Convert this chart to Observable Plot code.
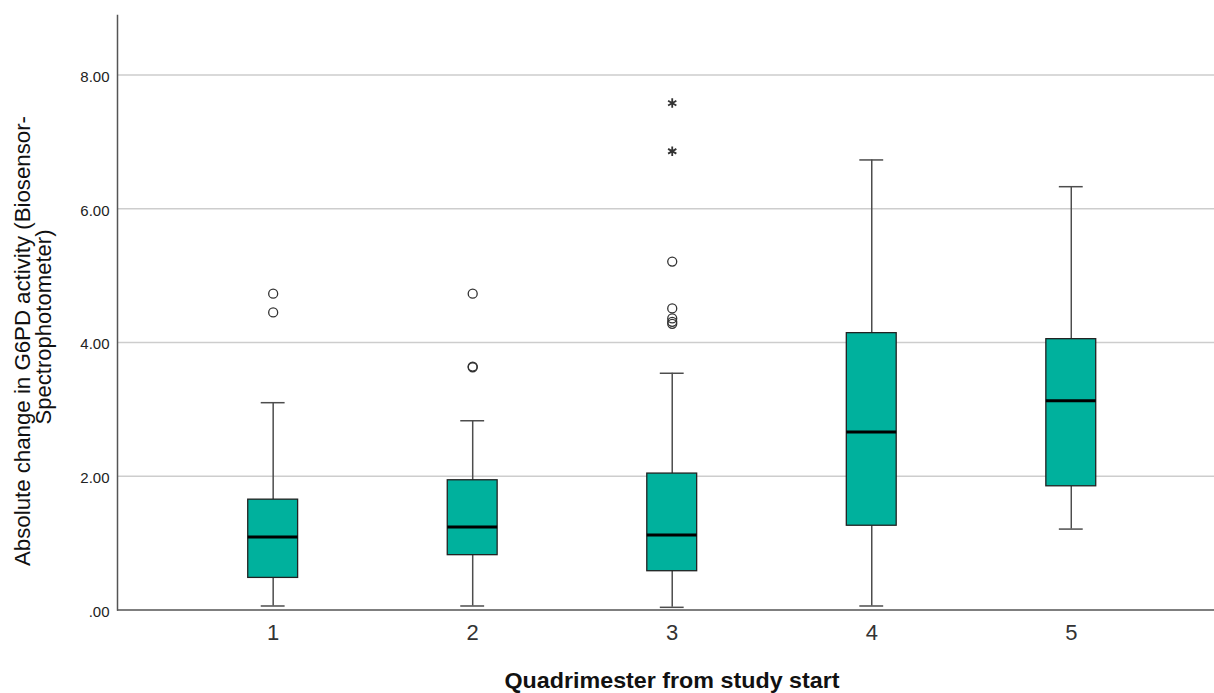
<!DOCTYPE html>
<html>
<head>
<meta charset="utf-8">
<script src="https://cdn.jsdelivr.net/npm/d3@7"></script>
<script src="https://cdn.jsdelivr.net/npm/@observablehq/plot@0.6"></script>
<style>
  html, body { margin: 0; padding: 0; background: #fff; }
  #chart svg { display: block; }
</style>
</head>
<body>
<div id="chart"></div>
<script>
// Categories (quadrimester) and box statistics
const quads = [1, 2, 3, 4, 5];
const lowerWhisker = [0.06, 0.06, 0.04, 0.06, 1.21];
const q1Values = [0.48, 0.82, 0.58, 1.26, 1.85];
const medianValues = [1.09, 1.24, 1.12, 2.66, 3.13];
const q3Values = [1.65, 1.94, 2.04, 4.14, 4.05];
const upperWhisker = [3.10, 2.83, 3.54, 6.73, 6.33];

// Outliers (circles) and extreme values (stars)
const outlierQuad = [1, 1, 2, 2, 2, 3, 3, 3, 3, 3];
const outlierValue = [4.73, 4.45, 4.73, 3.63, 3.64, 5.21, 4.51, 4.36, 4.31, 4.28];
const extremeQuad = [3, 3];
const extremeValue = [7.58, 6.86];

// Axis ticks
const yTicks = [0, 2, 4, 6, 8];
const yTickLabels = [".00", "2.00", "4.00", "6.00", "8.00"];
const gridValues = [2, 4, 6, 8];

const xTitle = "Quadrimester from study start";
const yTitleLines = ["Absolute change in G6PD activity (Biosensor-", "Spectrophotometer)"];

// Tables built from the arrays
const boxes = quads.map((q, i) => ({
  q, lo: lowerWhisker[i], q1: q1Values[i], med: medianValues[i], q3: q3Values[i], hi: upperWhisker[i]
}));
const outliers = outlierQuad.map((q, i) => ({q, v: outlierValue[i]}));
const extremes = extremeQuad.map((q, i) => ({q, v: extremeValue[i]}));

const boxFill = "#00b19d";
const whiskerColor = "#4d4d4d";

const chart = Plot.plot({
  width: 1214,
  height: 693,
  marginLeft: 117,
  marginRight: 0,
  marginTop: 15,
  marginBottom: 83.5,
  style: {fontFamily: "'Liberation Sans', Arial, sans-serif", background: "#fff"},
  x: {
    type: "band",
    domain: quads,
    range: [117, 1214],
    paddingInner: 0.75,
    paddingOuter: 0.624,
    align: 0.525,
    round: false
  },
  y: {domain: [0, 8.89], range: [609.5, 15]},
  marks: [
    Plot.ruleY(gridValues, {stroke: "#cdcdcd", strokeWidth: 1.6}),
    // whiskers
    Plot.ruleX(boxes, {x: "q", y1: "q3", y2: "hi", stroke: whiskerColor, strokeWidth: 1.5}),
    Plot.ruleX(boxes, {x: "q", y1: "lo", y2: "q1", stroke: whiskerColor, strokeWidth: 1.5}),
    Plot.tickY(boxes, {x: "q", y: "hi", stroke: whiskerColor, strokeWidth: 1.5, insetLeft: 13, insetRight: 13}),
    Plot.tickY(boxes, {x: "q", y: "lo", stroke: whiskerColor, strokeWidth: 1.5, insetLeft: 13, insetRight: 13}),
    // boxes
    Plot.barY(boxes, {x: "q", y1: "q1", y2: "q3", fill: boxFill, stroke: "#222", strokeWidth: 1.3}),
    Plot.tickY(boxes, {x: "q", y: "med", stroke: "#000", strokeWidth: 3}),
    // outliers
    Plot.dot(outliers, {x: "q", y: "v", r: 4.5, stroke: "#333", strokeWidth: 1.3, fill: "none"}),
    Plot.dot(extremes, {x: "q", y: "v", symbol: "asterisk", r: 4.5, stroke: "#333", strokeWidth: 1.8}),
    // axes
    Plot.ruleY([0], {stroke: "#555", strokeWidth: 1.5}),
    Plot.frame({anchor: "left", stroke: "#555", strokeWidth: 1.5}),
    Plot.axisY({
      ticks: yTicks,
      tickFormat: d => yTickLabels[yTicks.indexOf(d)],
      tickSize: 0,
      tickPadding: 8,
      fontSize: 15,
      dy: 2,
      fill: "#222",
      label: null
    }),
    Plot.axisX({
      tickSize: 0,
      tickPadding: 14,
      fontSize: 22,
      fill: "#333",
      label: null
    })
  ]
});

document.getElementById("chart").appendChild(chart);

// Titles
const svg = d3.select(chart);
svg.append("text")
  .attr("x", 672)
  .attr("y", 688)
  .attr("text-anchor", "middle")
  .attr("font-family", "'Liberation Sans', Arial, sans-serif")
  .attr("font-weight", "bold")
  .attr("font-size", 22)
  .attr("fill", "#111")
  .attr("textLength", 335)
  .attr("lengthAdjust", "spacingAndGlyphs")
  .text(xTitle);

const yLabelX = [30, 51];
const yLabelCenter = [341, 327];
const yLabelLen = [450, 195];
yTitleLines.forEach((line, i) => {
  svg.append("text")
    .attr("transform", `translate(${yLabelX[i]},${yLabelCenter[i]}) rotate(-90)`)
    .attr("text-anchor", "middle")
    .attr("font-family", "'Liberation Sans', Arial, sans-serif")
    .attr("font-size", 22)
    .attr("fill", "#111")
    .attr("textLength", yLabelLen[i])
    .attr("lengthAdjust", "spacingAndGlyphs")
    .text(line);
});
</script>
</body>
</html>
